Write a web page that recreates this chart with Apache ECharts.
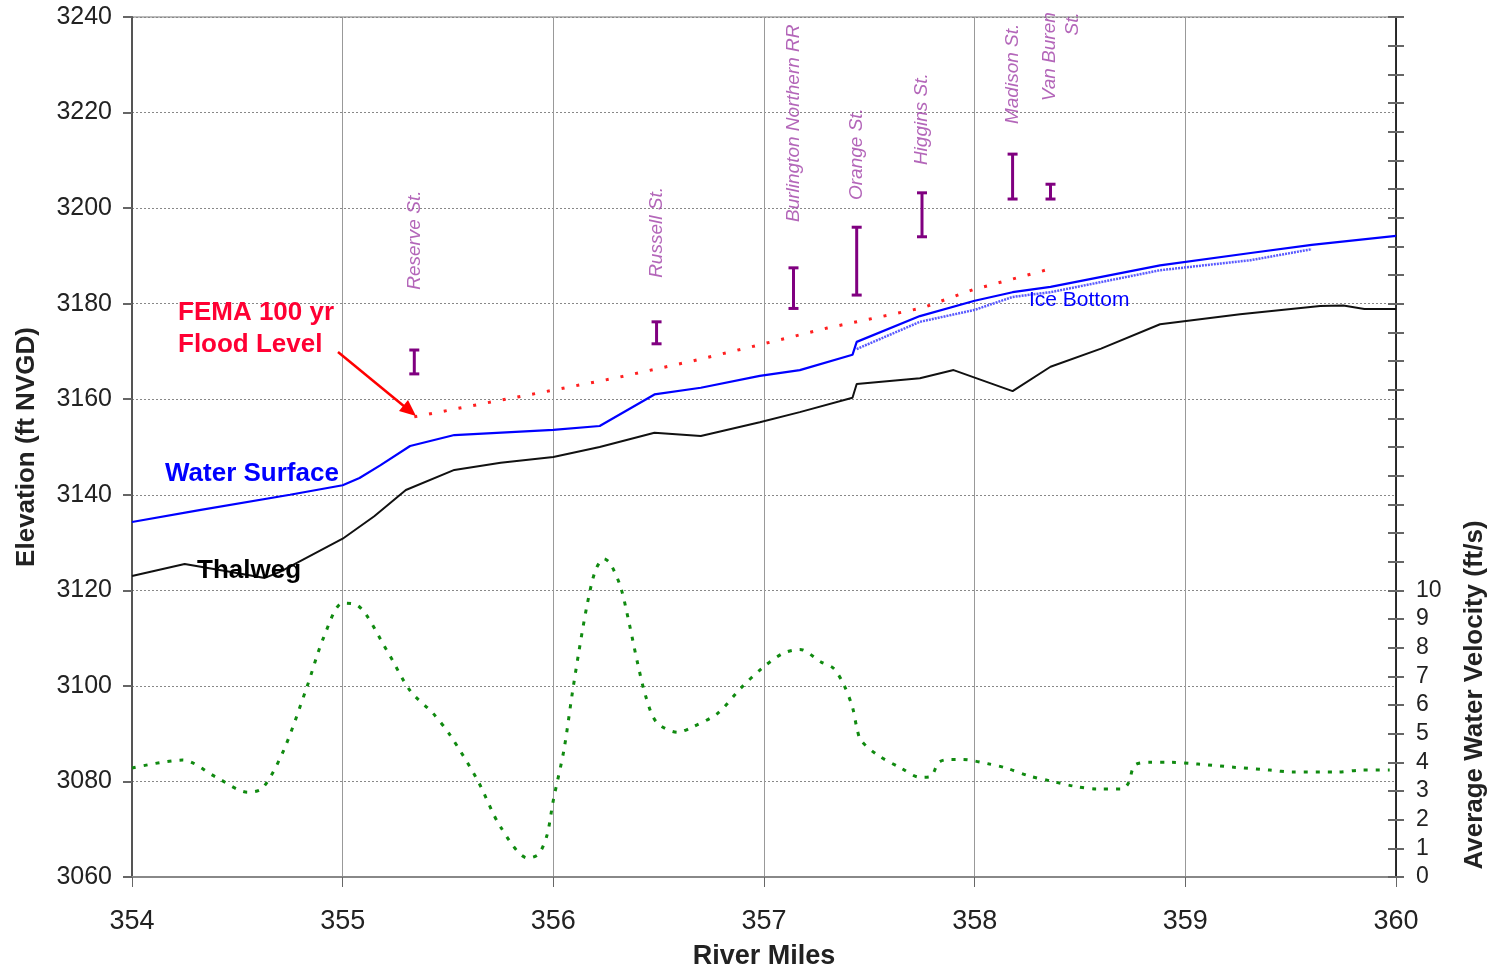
<!DOCTYPE html>
<html>
<head>
<meta charset="utf-8">
<script src="https://cdn.jsdelivr.net/npm/echarts@6/dist/echarts.min.js"></script>
<style>html,body{margin:0;padding:0;background:#fff;}#c{width:1492px;height:971px;}</style>
</head>
<body>
<div id="c"></div>
<script>
// ---------- DATA ----------
const xTicks = [354, 355, 356, 357, 358, 359, 360];
const elevTicks = [3060, 3080, 3100, 3120, 3140, 3160, 3180, 3200, 3220, 3240];
const velTickLabels = [0, 1, 2, 3, 4, 5, 6, 7, 8, 9, 10];

const thalwegMile = [354.0, 354.25, 354.45, 354.63, 354.7, 355.0, 355.15, 355.3, 355.53, 355.75, 356.0, 356.22, 356.48, 356.7, 356.98, 357.17, 357.42, 357.44, 357.74, 357.9, 358.18, 358.36, 358.6, 358.88, 359.26, 359.64, 359.75, 359.85, 360.0];
const thalwegElev = [3123.0, 3125.5, 3124.0, 3122.6, 3123.8, 3130.8, 3135.5, 3141.0, 3145.2, 3146.7, 3147.9, 3150.0, 3153.0, 3152.3, 3155.2, 3157.3, 3160.3, 3163.2, 3164.4, 3166.1, 3161.7, 3166.8, 3170.6, 3175.7, 3177.8, 3179.5, 3179.6, 3178.9, 3178.9];

const wsMile = [354.0, 354.32, 354.75, 355.0, 355.08, 355.18, 355.32, 355.53, 356.0, 356.22, 356.48, 356.7, 356.98, 357.17, 357.42, 357.44, 357.74, 358.0, 358.18, 358.36, 358.88, 359.31, 359.6, 360.0];
const wsElev = [3134.3, 3136.8, 3140.0, 3142.0, 3143.5, 3146.2, 3150.2, 3152.5, 3153.6, 3154.4, 3161.0, 3162.4, 3164.9, 3166.1, 3169.3, 3172.0, 3177.4, 3180.6, 3182.4, 3183.5, 3188.0, 3190.6, 3192.3, 3194.2];

const iceMile = [357.44, 357.74, 358.0, 358.18, 358.36, 358.88, 359.31, 359.6];
const iceElev = [3170.5, 3176.2, 3178.7, 3181.4, 3182.4, 3187.0, 3189.1, 3191.4];

const femaMile = [355.34, 355.75, 356.0, 356.29, 356.66, 356.98, 357.3, 357.75, 357.99, 358.36];
const femaElev = [3156.3, 3159.8, 3161.9, 3164.4, 3168.0, 3171.4, 3174.9, 3179.1, 3182.9, 3187.3];

const velMile = [354.0, 354.24, 354.4, 354.55, 354.62, 354.72, 354.83, 354.91, 355.0, 355.07, 355.21, 355.32, 355.43, 355.51, 355.64, 355.75, 355.88, 355.93, 355.97, 356.0, 356.05, 356.09, 356.12, 356.16, 356.2, 356.24, 356.27, 356.32, 356.36, 356.4, 356.44, 356.49, 356.59, 356.66, 356.78, 356.89, 356.99, 357.09, 357.17, 357.27, 357.33, 357.38, 357.42, 357.44, 357.46, 357.54, 357.65, 357.74, 357.79, 357.83, 357.88, 357.94, 358.07, 358.15, 358.26, 358.36, 358.47, 358.58, 358.7, 358.73, 358.76, 358.83, 358.93, 359.06, 359.23, 359.4, 359.51, 359.72, 359.84, 359.97];
const velValue = [3.8, 4.08, 3.48, 2.96, 3.1, 4.42, 6.62, 8.36, 9.55, 9.48, 7.9, 6.5, 5.7, 4.95, 3.38, 1.74, 0.66, 0.8, 1.46, 2.68, 4.42, 6.41, 7.8, 9.48, 10.7, 11.1, 10.94, 10.1, 8.85, 7.46, 6.27, 5.4, 5.05, 5.23, 5.71, 6.59, 7.28, 7.8, 7.94, 7.5, 7.28, 6.69, 5.92, 5.23, 4.77, 4.25, 3.8, 3.48, 3.5, 4.0, 4.1, 4.1, 3.94, 3.8, 3.52, 3.35, 3.17, 3.07, 3.07, 3.28, 3.9, 4.0, 4.0, 3.94, 3.83, 3.73, 3.66, 3.66, 3.73, 3.73];

const bridgeNames = ['Reserve St.', 'Russell St.', 'Burlington Northern RR', 'Orange St.', 'Higgins St.', 'Madison St.', 'Van Buren\nSt.'];
const bridgeMile = [355.34, 356.49, 357.14, 357.44, 357.75, 358.18, 358.36];
const bridgeLow = [3165.3, 3171.6, 3179.0, 3181.8, 3194.0, 3201.9, 3201.9];
const bridgeHigh = [3170.3, 3176.2, 3187.5, 3196.0, 3203.2, 3211.3, 3205.0];
const bridgeLabelMile = [355.34, 356.49, 357.14, 357.44, 357.75, 358.18, 358.41];
const bridgeLabelElev = [3182.9, 3185.4, 3197.1, 3201.7, 3209.0, 3217.6, 3241.0];

// ---------- CHART ----------
const zip = (a, b) => a.map((v, i) => [v, b[i]]);
const FONT = 'Liberation Sans, Arial, sans-serif';
const chart = echarts.init(document.getElementById('c'), null, {renderer: 'canvas'});

const option = {
  backgroundColor: '#fff',
  animation: false,
  grid: {left: 132, right: 96, top: 17, bottom: 94, show: true, borderColor: '#bbb', borderWidth: 2,
    backgroundColor: 'transparent', containLabel: false, outerBoundsMode: 'none'},
  xAxis: {
    type: 'value', min: xTicks[0], max: xTicks[xTicks.length - 1], interval: 1,
    name: 'River Miles', nameLocation: 'middle', nameGap: 66,
    nameTextStyle: {fontFamily: FONT, fontSize: 27, fontWeight: 'bold', color: '#222'},
    axisLine: {show: true, lineStyle: {color: '#888', width: 2}},
    axisTick: {show: true, length: 10, lineStyle: {color: '#666'}},
    axisLabel: {fontFamily: FONT, fontSize: 27, color: '#222', margin: 31, formatter: v => String(v)},
    splitLine: {show: true, lineStyle: {color: '#999', width: 1}}
  },
  yAxis: [
    {
      type: 'value', min: elevTicks[0], max: elevTicks[elevTicks.length - 1], interval: 20,
      name: 'Elevation (ft NVGD)', nameLocation: 'middle', nameGap: 92, nameRotate: 90,
      nameTextStyle: {fontFamily: FONT, fontSize: 26, fontWeight: 'bold', color: '#222'},
      axisLine: {show: true, lineStyle: {color: '#555', width: 2}},
      axisTick: {show: true, length: 9, lineStyle: {color: '#666', width: 2}},
      axisLabel: {fontFamily: FONT, fontSize: 25, color: '#222', margin: 20, formatter: v => String(v)},
      splitLine: {show: true, lineStyle: {color: '#888', type: [2, 2], width: 1}}
    },
    {
      type: 'value', min: 0, max: 30, interval: 1, position: 'right',
      axisLine: {show: true, lineStyle: {color: '#000', width: 1.5}},
      axisTick: {show: true, inside: true, length: 8, lineStyle: {color: '#666', width: 2}},
      axisLabel: {fontFamily: FONT, fontSize: 23, color: '#222', margin: 20,
        formatter: v => (velTickLabels.indexOf(v) >= 0 ? String(v) : '')},
      splitLine: {show: false}
    },
    {
      type: 'value', min: 0, max: 30, interval: 1, position: 'right',
      axisLine: {show: false},
      axisTick: {show: true, inside: false, length: 8, lineStyle: {color: '#666', width: 2}},
      axisLabel: {show: false},
      splitLine: {show: false}
    }
  ],
  visualMap: [{
    type: 'piecewise', show: false, dimension: 0, seriesIndex: 1,
    pieces: [
      {lt: 357.44, color: '#0000ff'},
      {gte: 357.44, lte: 359.6, color: '#5a5aff'},
      {gt: 359.6, color: '#0000ff'}
    ]
  }],
  series: [
    {
      name: 'Thalweg', type: 'line', yAxisIndex: 0, data: zip(thalwegMile, thalwegElev),
      showSymbol: false, lineStyle: {color: '#111', width: 2}, z: 3
    },
    {
      name: 'Water Surface', type: 'line', yAxisIndex: 0, data: zip(wsMile, wsElev),
      showSymbol: false, lineStyle: {color: '#0000ff', width: 2.2}, z: 4
    },
    {
      name: 'Ice Bottom', type: 'line', yAxisIndex: 0, data: zip(iceMile, iceElev),
      showSymbol: false, lineStyle: {color: '#5a5aff', width: 2.5, type: [2, 1]}, z: 4
    },
    {
      name: 'FEMA 100 yr Flood Level', type: 'line', yAxisIndex: 0, data: zip(femaMile, femaElev),
      showSymbol: false, lineStyle: {color: '#ff2020', width: 3, type: [3, 12]}, z: 5
    },
    {
      name: 'Average Water Velocity', type: 'line', yAxisIndex: 1, data: zip(velMile, velValue),
      showSymbol: false, smooth: 0.3, lineStyle: {color: '#108a10', width: 3, type: [4, 8]}, z: 3
    },
    {
      name: 'Bridges', type: 'custom', yAxisIndex: 0,
      data: bridgeMile.map((m, i) => [m, bridgeLow[i], bridgeHigh[i]]),
      renderItem: function (params, api) {
        const x = api.value(0);
        const top = api.coord([x, api.value(2)]);
        const bot = api.coord([x, api.value(1)]);
        const st = {stroke: '#800080', lineWidth: 3};
        const cap = 5;
        return {type: 'group', children: [
          {type: 'line', shape: {x1: top[0], y1: top[1], x2: bot[0], y2: bot[1]}, style: st},
          {type: 'line', shape: {x1: top[0] - cap, y1: top[1], x2: top[0] + cap, y2: top[1]}, style: st},
          {type: 'line', shape: {x1: bot[0] - cap, y1: bot[1], x2: bot[0] + cap, y2: bot[1]}, style: st}
        ]};
      },
      z: 6
    },
    {
      name: 'Bridge labels', type: 'scatter', yAxisIndex: 0, symbolSize: 0, clip: false,
      data: bridgeLabelMile.map((m, i) => {
        const multi = bridgeNames[i].indexOf('\n') >= 0;
        return {
          value: [m, bridgeLabelElev[i]], name: bridgeNames[i],
          label: multi ? {align: 'right'} : {}
        };
      }),
      label: {
        show: true, position: 'inside', rotate: 90, align: 'left', verticalAlign: 'middle',
        formatter: p => p.name, fontFamily: FONT, fontSize: 19, fontStyle: 'italic',
        color: '#a040a8', lineHeight: 23
      },
      z: 6
    }
  ],
  graphic: [
    {type: 'text', left: 178, top: 297, z: 10,
      style: {text: 'FEMA 100 yr\nFlood Level', fill: '#ff0033', font: 'bold 26px ' + FONT, lineHeight: 32}},
    {type: 'line', z: 10, shape: {x1: 338, y1: 352, x2: 405, y2: 407}, style: {stroke: '#ff0000', lineWidth: 2.5}},
    {type: 'polygon', z: 10, shape: {points: [[416, 416], [399, 411], [408, 400]]}, style: {fill: '#ff0000'}},
    {type: 'text', left: 165, top: 461, z: 10,
      style: {text: 'Water Surface', fill: '#0000ff', font: 'bold 26px ' + FONT}},
    {type: 'text', left: 197, top: 558, z: 10,
      style: {text: 'Thalweg', fill: '#000', font: 'bold 26px ' + FONT}},
    {type: 'text', left: 1029, top: 290, z: 10,
      style: {text: 'Ice Bottom', fill: '#0000ff', font: '21px ' + FONT}},
    {type: 'text', z: 10, x: 1475, y: 695, rotation: Math.PI / 2,
      style: {text: 'Average Water Velocity (ft/s)', fill: '#222', font: 'bold 26px ' + FONT, align: 'center', verticalAlign: 'middle'}}
  ]
};
chart.setOption(option);
</script>
</body>
</html>
